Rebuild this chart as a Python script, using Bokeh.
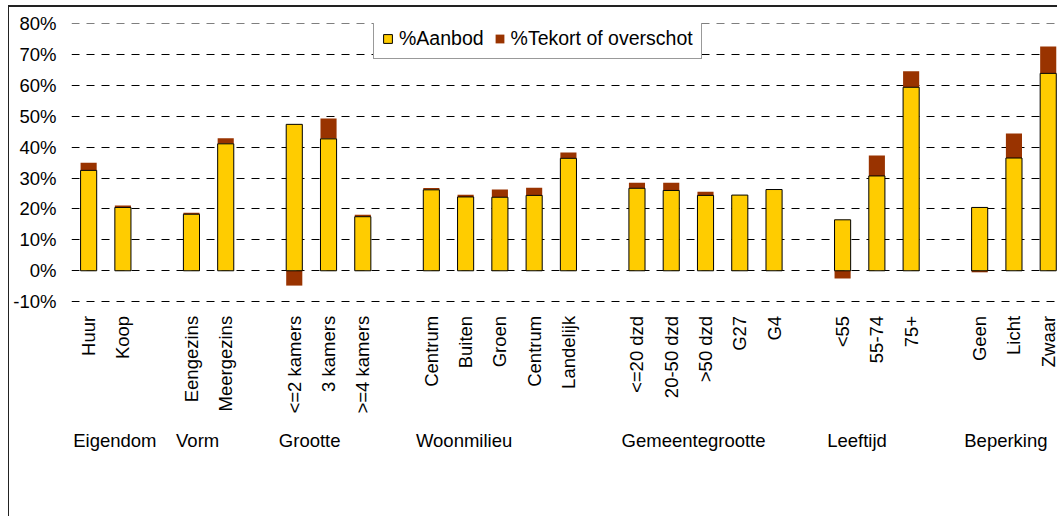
import math
import numpy as np
from bokeh.plotting import figure
from bokeh.models import (ColumnDataSource, Range1d, FixedTicker, PrintfTickFormatter,
                          Legend, LegendItem)
from bokeh.core.properties import value
from bokeh.embed import file_html
from bokeh.resources import INLINE

FONT = "Liberation Sans"
FS = "18.5px"

# ---- data ----
groups = ["Eigendom", "Vorm", "Grootte", "Woonmilieu", "Gemeentegrootte", "Leeftijd", "Beperking"]
group_cats = [
    ["Huur", "Koop"],
    ["Eengezins", "Meergezins"],
    ["<=2 kamers", "3 kamers", ">=4 kamers"],
    ["Centrum", "Buiten", "Groen", "Centrum", "Landelijk"],
    ["<=20 dzd", "20-50 dzd", ">50 dzd", "G27", "G4"],
    ["<55", "55-74", "75+"],
    ["Geen", "Licht", "Zwaar"],
]
aanbod = [32.5, 20.5, 18.3, 41.1, 47.4, 42.7, 17.5, 26.2, 23.9, 23.8, 24.4, 36.4,
          26.7, 26.0, 24.4, 24.5, 26.3, 16.5, 30.7, 59.4, 20.5, 36.5, 63.9]
tekort = [2.5, 0.6, 0.5, 1.8, -4.8, 6.6, 0.6, 0.6, 0.7, 2.5, 2.5, 1.9,
          1.8, 2.5, 1.2, 0.0, 0.0, -2.5, 6.6, 5.2, -0.5, 7.9, 8.7]
y_ticks = [-10, 0, 10, 20, 30, 40, 50, 60, 70, 80]

# ---- slot positions (one empty slot between groups) ----
xs, labels, group_start = [], [], []
i = 0
for cats in group_cats:
    group_start.append(i)
    for c in cats:
        xs.append(i)
        labels.append(c)
        i += 1
    i += 1

aan = np.array(aanbod)
tek = np.array(tekort)
tek_bottom = np.where(tek >= 0, aan, 0.0)
tek_top = tek_bottom + tek

src = ColumnDataSource(dict(x=xs, aan=aan, tb=tek_bottom, tt=tek_top))

# frame runs to the bottom of the chart so that the category texts can live inside it
p = figure(width=1049, height=511, output_backend="svg", toolbar_location=None,
           x_range=Range1d(-0.5, 28.3), y_range=Range1d(-80.2, 80.05),
           min_border_left=62, min_border_right=0, min_border_top=16, min_border_bottom=0)
p.outline_line_color = None
p.background_fill_color = "white"
p.border_fill_color = "white"

r_tek = p.vbar(x="x", width=0.47, bottom="tb", top="tt", source=src,
               fill_color="#993300", line_color=None)
r_aan = p.vbar(x="x", width=0.47, bottom=0, top="aan", source=src,
               fill_color="#FFCC00", line_color="#000000", line_width=1)

# category labels (vertical, reading upward, ending just below the -10% line)
lab_src = ColumnDataSource(dict(x=xs, y=[-14.6] * len(xs), t=labels))
p.text(x="x", y="y", text="t", source=lab_src, angle=math.pi / 2,
       text_align="right", text_baseline="middle",
       text_font=value(FONT), text_font_size=FS, text_color="#000000")

# group labels
grp_src = ColumnDataSource(dict(x=[s - 0.45 for s in group_start], y=[-55.0] * len(groups), t=groups))
p.text(x="x", y="y", text="t", source=grp_src,
       text_align="left", text_baseline="middle",
       text_font=value(FONT), text_font_size=FS, text_color="#000000")

# axes / grid
p.xaxis.visible = False
p.xgrid.visible = False
p.ygrid.ticker = FixedTicker(ticks=y_ticks)
p.ygrid.grid_line_color = "#000000"
p.ygrid.grid_line_dash = "8 7"
p.ygrid.grid_line_width = 1

ya = p.yaxis[0]
ya.ticker = FixedTicker(ticks=y_ticks)
ya.formatter = PrintfTickFormatter(format="%d%%")
ya.axis_line_color = None
ya.major_tick_line_color = None
ya.minor_tick_line_color = None
ya.major_tick_out = 0
ya.major_tick_in = 0
ya.major_label_standoff = 15
ya.major_label_text_font = FONT
ya.major_label_text_font_size = FS
ya.major_label_text_color = "#000000"

legend = Legend(items=[LegendItem(label="%Aanbod", renderers=[r_aan]),
                       LegendItem(label="%Tekort of overschot", renderers=[r_tek])],
                orientation="horizontal", location=(302, 459),
                glyph_width=11, glyph_height=11, label_standoff=6, spacing=10,
                padding=8, margin=0,
                label_text_font=FONT, label_text_font_size="19.5px", label_text_color="#000000",
                border_line_color="#333333", border_line_width=1,
                background_fill_color="white", background_fill_alpha=1.0)
p.add_layout(legend, "center")

p.styles = {"margin-left": "9px", "margin-top": "7px", "box-shadow": "-1px -2px 0 0 #222222"}

open("out.html", "w").write(file_html(p, INLINE))
